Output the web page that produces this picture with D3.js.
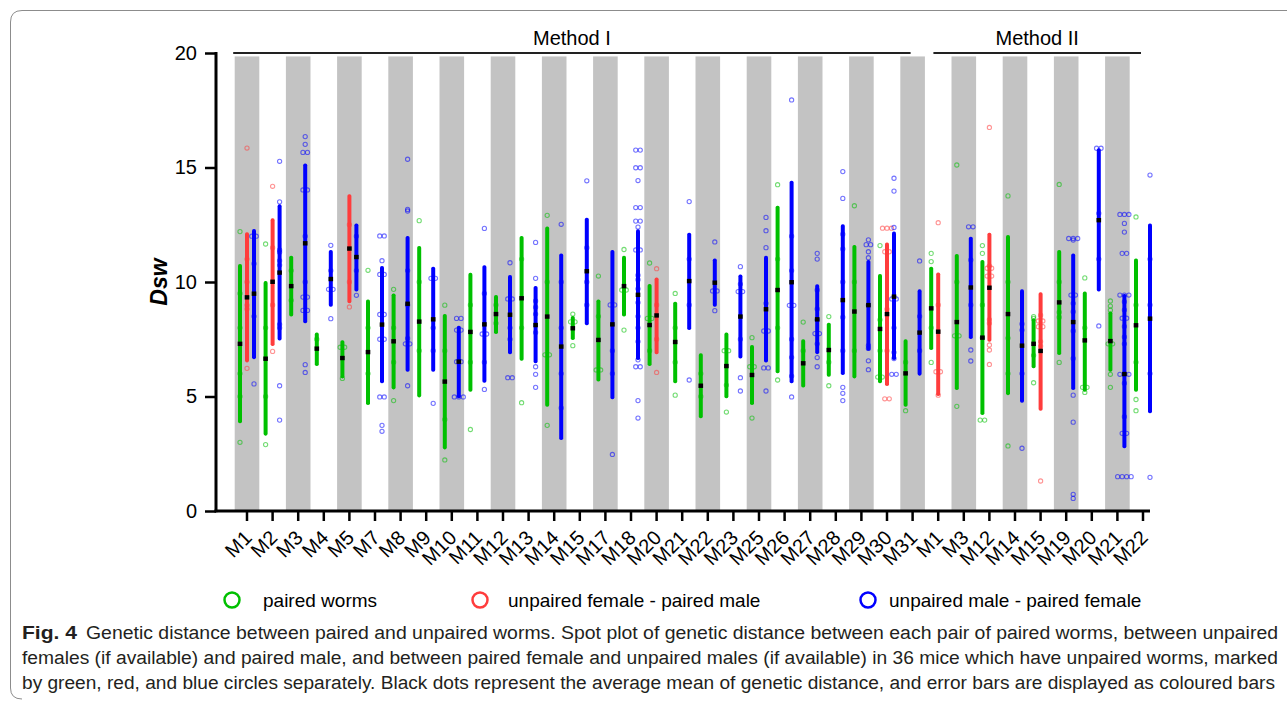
<!DOCTYPE html>
<html>
<head>
<meta charset="utf-8">
<script src="https://cdn.jsdelivr.net/npm/d3@7"></script>
<style>
  body { margin: 0; background: #fff; }
  svg { display: block; font-family: Arial, "Liberation Sans", sans-serif; }
</style>
</head>
<body>
<svg id="chart" width="1287" height="703"></svg>
<script>
// mice, in plot order (Method I then Method II)
const categories = ["M1","M2","M3","M4","M5","M7","M8","M9","M10","M11","M12","M13","M14","M15","M17","M18","M20","M21","M22","M23","M25","M26","M27","M28","M29","M30","M31",
                    "M1","M3","M12","M14","M15","M19","M20","M21","M22"];
const methods = [["Method I", 0, 26], ["Method II", 27, 35]];
const shaded = [0,2,4,6,8,10,12,14,16,18,20,22,24,26,28,30,32,34];

// [low, mean, high] of each error bar, null when the group has no worms
const greenStats = [[3.83,7.30,10.79],[3.29,6.65,10.04],[8.49,9.82,11.15],[6.33,7.09,7.79],[5.79,6.68,7.46],[4.63,6.94,9.24],[5.31,7.41,9.5],[4.96,8.27,11.57],[2.69,5.65,8.6],[5.21,7.82,10.4],[7.73,8.6,9.43],[6.56,9.29,12.01],[4.55,8.49,12.42],[7.47,7.98,8.52],[5.65,7.47,9.24],[8.49,9.82,11.15],[6.33,8.12,9.91],[5.58,7.38,9.14],[4.05,5.47,6.89],[4.92,6.33,7.79],[4.63,5.94,7.25],[6.01,9.65,13.33],[5.39,6.45,7.5],[5.86,7.03,8.22],[5.79,8.71,11.62],[5.58,7.95,10.35],[4.55,6.01,7.5],
                    [7.03,8.85,10.67],[5.28,8.25,11.22],[4.19,7.57,10.96],[5.06,8.6,12.05],[6.23,7.3,8.41],[6.81,9.11,11.4],[5.21,7.45,9.58],[6.08,7.42,8.71],[5.21,8.11,11.03]];
const redStats = [[6.49,9.33,12.17],[7.2,10.01,12.78],null,null,[9.07,11.46,13.83],null,null,null,null,null,null,null,null,null,null,null,[6.84,8.54,10.2],null,null,null,null,null,null,null,null,[5.46,8.6,11.73],null,
                  [5.02,7.83,10.42],null,[7.39,9.75,12.15],null,[4.38,6.99,9.55],null,null,null,null];
const blueStats = [[6.63,9.49,12.31],[7.44,10.41,13.39],[8.2,11.69,15.18],[8.92,10.13,11.4],[9.58,11.09,12.56],[5.58,8.14,10.7],[6.08,9.05,12.01],[6.08,8.37,10.67],[4.92,6.52,8.09],[5.6,8.15,10.73],[6.84,8.57,10.31],[6.45,8.12,9.83],[3.1,7.18,11.25],[8.11,10.47,12.81],[4.88,8.15,11.4],[6.59,9.44,12.3],null,[7.9,10.04,12.15],[8.92,9.97,11.03],[6.66,8.49,10.33],[6.48,8.81,11.15],[5.58,9.99,14.42],[6.85,8.37,9.9],[5.94,9.21,12.52],[7.0,8.99,10.96],[6.59,9.36,12.2],[5.91,7.79,9.68],
                   null,[7.51,9.76,11.98],null,[4.73,7.22,9.68],null,[5.28,8.25,11.25],[9.58,12.7,15.84],[2.74,5.98,9.48],[4.27,8.4,12.56]];

// individual genetic distances (circles)
const greenPoints = [[12.2,9.5,8.0,6.0,5.0,3.0],[11.66,8.0,5.0,2.9],[10.5,9.2],[7.5],[7.15,7.15,5.79],[10.51,8.0,6.0],[9.68,8.0,6.5,4.82],[12.68,10.0,7.0],[8.99,7.0,4.0,2.23],[9.0,6.5,3.56],[9.0,8.2],[11.0,8.0,4.73],[12.91,10.0,6.82,6.82,3.74],[8.6,8.26,8.26,7.22],[10.26,8.5,6.16,6.16],[11.42,9.65,9.65,7.9],[10.83,8.41,8.41,7.0],[9.5,8.0,6.5,5.06],[6.0,5.0],[7.0,7.0,5.5,4.32],[7.57,6.3,6.3,4.06],[14.25,11.0,8.0,5.72],[8.25,7.0],[8.49,6.5,5.47],[13.33,10.0,7.0],[11.59,8.35,7.0,5.85,5.85],[6.5,4.38],
                     [11.25,10.89,8.0,6.49],[15.11,10.0,7.65,7.65,4.57],[11.59,11.25,9.0,7.57,3.97,3.97],[13.76,10.0,7.55,6.0,2.84],[8.49,8.41,6.8,5.6],[14.26,10.0,8.68,8.46,6.49],[10.18,8.0,5.4,5.4,5.18],[9.17,8.95,8.77,7.3,7.3,5.97,5.4],[12.84,9.0,6.5,4.87,4.38]];
const redPoints = [[15.85,11.0,10.0,8.99,8.82,6.23],[14.18,11.5,9.0,6.97],[],[],[12.5,10.0,8.91],[],[],[],[],[],[],[],[],[],[],[],[10.58,9.0,7.5,6.05],[],[],[],[],[],[],[],[],[12.35,12.35,12.35,11.32,11.32,8.81,7.0,4.9,4.9],[],
                   [12.59,9.0,6.08,6.08,5.06],[],[16.75,10.7,10.6,10.6,10.26,10.26,8.36,8.2,7.25,7.03,6.4],[],[8.55,8.3,8.3,8.05,8.05,7.4,7.2,1.31],[],[],[],[]];
const bluePoints = [[12.0,12.0,10.8,8.5,5.55],[15.27,13.5,11.4,11.3,10.93,10.74,8.15,8.0,5.47,3.97],[16.35,16.01,15.66,15.66,14.02,14.02,12.0,10.0,9.34,9.34,8.76,8.76,6.39,6.05],[11.6,10.5,9.68,9.68,8.4],[12.0,10.5,9.42],[12.01,12.01,10.93,10.33,10.33,8.58,8.58,7.5,7.5,4.98,4.98,3.74,3.48],[15.36,13.17,13.1,10.5,9.0,7.54,7.3,7.3,5.47],[10.16,10.16,8.0,7.0,4.7],[8.41,8.41,7.9,7.9,6.52,6.52,4.98,4.98,4.98],[12.34,9.5,7.73,7.73,6.5,5.31],[10.84,9.26,9.26,8.0,7.5,5.82,5.82],[11.73,10.16,9.17,8.9,8.6,7.8,6.3,5.97,5.4],[12.52,10.0,8.0,6.0,4.5],[14.42,11.5,10.0,9.0],[9.0,9.0,7.0,6.0,2.47],[15.76,15.76,14.99,14.99,14.43,13.25,13.25,12.66,12.66,12.4,11.4,11.4,10.3,10.1,9.7,9.1,8.5,8.0,7.4,6.6,6.3,6.3,4.82,4.06],[],[13.51,11.0,9.0,5.72],[11.75,9.61,9.61,8.75],[10.67,9.91,9.58,9.58,7.5,5.82,5.24],[12.82,12.24,11.5,9.07,7.86,7.86,6.25,6.25,5.24],[17.95,12.0,10.5,8.98,8.98,7.5,6.71,5.89,4.98],[11.25,11.0,9.65,8.82,8.35,7.75,7.75,7.3,6.7,6.3],[14.82,13.65,12.09,11.44,10.0,8.46,7.0,5.4,5.14,4.82],[11.84,11.63,11.63,11.32,11.06,8.99,7.23,7.1,6.56,6.17],[14.53,13.97,12.38,9.26,9.26,8.0,6.93,6.66,5.97,5.97],[10.92,8.5,7.0],
                    [],[12.41,12.41,10.96,9.0,7.03,6.55],[],[8.17,7.9,6.0,2.74],[],[11.9,11.9,11.9,11.83,9.43,9.43,9.07,8.7,7.86,6.66,5.06,3.88,0.73,0.55],[15.84,15.84,13.0,11.0,8.08],[12.95,12.95,12.95,12.56,12.18,11.25,11.25,9.43,9.43,9.43,9.14,8.78,8.42,8.42,8.06,7.6,7.3,5.97,5.97,5.97,5.58,4.12,3.39,3.39,1.5,1.5,1.5,1.5],[14.67,11.0,9.0,6.0,1.47]];

const series = [
  {name: "paired worms", color: "#00c000", stats: greenStats, points: greenPoints, dx: -7, lx: 232, tx: 263},
  {name: "unpaired female - paired male", color: "#ff3c3c", stats: redStats, points: redPoints, dx: 0, lx: 480, tx: 508},
  {name: "unpaired male - paired female", color: "#0000ff", stats: blueStats, points: bluePoints, dx: 7, lx: 868, tx: 889}
];

const captionBold = "Fig. 4";
const captionLines = [
  "Genetic distance between paired and unpaired worms. Spot plot of genetic distance between each pair of paired worms, between unpaired",
  "females (if available) and paired male, and between paired female and unpaired males (if available) in 36 mice which have unpaired worms, marked",
  "by green, red, and blue circles separately. Black dots represent the average mean of genetic distance, and error bars are displayed as coloured bars"
];

const svg = d3.select("#chart");

// frame of the figure
svg.append("path")
  .attr("d", "M1300,10.5 H22 Q10.5,10.5 10.5,22 V688 Q10.5,699 22,699")
  .attr("fill", "none").attr("stroke", "#8c8c8c").attr("stroke-width", 1);

const x = d3.scaleBand().domain(d3.range(categories.length)).range([234.2, 1155.8]);
const y = d3.scaleLinear().domain([0, 20]).range([511, 53]);
const bw = x.bandwidth();

// grey stripes
svg.append("g").selectAll("rect").data(shaded).join("rect")
  .attr("x", d => x(d) + 0.5)
  .attr("width", bw - 1)
  .attr("y", y(19.85))
  .attr("height", y(0) - y(19.85))
  .attr("fill", "#c3c3c3");

// method headers
methods.forEach(function(m, i){
  var x1 = i == 0 ? x(m[1]) - 1 : x(m[1]) + 8;
  var x2 = x(m[2]) + bw / 2 - 2;
  svg.append("line").attr("x1", x1).attr("x2", x2).attr("y1", y(20)).attr("y2", y(20))
    .attr("stroke", "#222").attr("stroke-width", 2);
  svg.append("text").attr("x", (x1 + x2) / 2).attr("y", 45)
    .attr("text-anchor", "middle").attr("font-size", 20).text(m[0]);
});

// bars, circles, means
series.forEach(function(s){
  var g = svg.append("g");
  var cx = i => x(i) + bw / 2 + s.dx;
  var idx = d3.range(categories.length).filter(i => s.stats[i]);

  g.selectAll(".bar").data(idx).join("rect")
    .attr("class", "bar")
    .attr("x", i => cx(i) - 2)
    .attr("width", 4)
    .attr("y", i => y(s.stats[i][2]))
    .attr("height", i => y(s.stats[i][0]) - y(s.stats[i][2]))
    .attr("rx", 1.8)
    .attr("fill", s.color);

  var pts = [];
  idx.forEach(function(i){
    var vals = s.points[i];
    var k = 0;
    while (k < vals.length) {
      var n = 1;
      while (k + n < vals.length && vals[k + n] == vals[k]) n++;
      for (var j = 0; j < n; j++) {
        var off = n == 1 ? 0 : (j - (n - 1) / 2) * 4.5;
        pts.push({x: cx(i) + off, v: vals[k]});
      }
      k += n;
    }
  });
  g.selectAll(".pt").data(pts).join("circle")
    .attr("class", "pt")
    .attr("cx", d => d.x)
    .attr("cy", d => y(d.v))
    .attr("r", 2.1)
    .attr("fill", "none")
    .attr("stroke", s.color)
    .attr("stroke-opacity", 0.55)
    .attr("stroke-width", 1.1);

  g.selectAll(".mean").data(idx).join("rect")
    .attr("class", "mean")
    .attr("x", i => cx(i) - 2.3)
    .attr("y", i => y(s.stats[i][1]) - 2.2)
    .attr("width", 4.6).attr("height", 4.4)
    .attr("fill", "#000");
});

// axes
var yAxis = svg.append("g").attr("transform", "translate(216,0)")
  .call(d3.axisLeft(y).tickValues([0, 5, 10, 15, 20]).tickSize(11).tickPadding(8));
yAxis.select(".domain").remove();
yAxis.selectAll(".tick line").attr("stroke-width", 2.5);
yAxis.selectAll(".tick text").attr("font-size", 20).attr("fill", "#000").attr("font-family", "Arial, 'Liberation Sans'");
svg.append("line").attr("x1", 216).attr("x2", 216).attr("y1", y(20) - 1).attr("y2", y(0) + 1.2)
  .attr("stroke", "#000").attr("stroke-width", 3);

var xAxis = svg.append("g").attr("transform", "translate(0," + y(0) + ")")
  .call(d3.axisBottom(x).tickSize(10).tickFormat(i => categories[i]));
xAxis.select(".domain").remove();
xAxis.selectAll(".tick line").attr("stroke-width", 2.5);
xAxis.selectAll(".tick text")
  .attr("font-size", 20).attr("fill", "#000").attr("font-family", "Arial, 'Liberation Sans'")
  .attr("text-anchor", "end")
  .attr("dy", "0")
  .attr("y", 0)
  .attr("transform", "translate(6,28) rotate(-45)");
svg.append("line").attr("x1", 214.5).attr("x2", 1150).attr("y1", y(0)).attr("y2", y(0))
  .attr("stroke", "#000").attr("stroke-width", 3);

// y title
svg.append("text")
  .attr("transform", "translate(167,282) rotate(-90)")
  .attr("text-anchor", "middle")
  .attr("font-size", 23).attr("font-weight", "bold").attr("font-style", "italic")
  .text("Dsw");

// legend
series.forEach(function(s){
  svg.append("circle").attr("cx", s.lx).attr("cy", 600).attr("r", 7.5)
    .attr("fill", "none").attr("stroke", s.color).attr("stroke-width", 2.5);
  svg.append("text").attr("x", s.tx).attr("y", 607).attr("font-size", 19).text(s.name);
});

// caption
var cap = svg.append("g").attr("fill", "#231f20").attr("font-family", "'Liberation Sans', Arial, sans-serif").attr("font-size", 18);
cap.append("text").attr("x", 22).attr("y", 639).attr("font-weight", "bold")
  .attr("textLength", 55).attr("lengthAdjust", "spacingAndGlyphs").text(captionBold);
var capX = [86, 22, 22], capW = [1192, 1256, 1253], capY = [639, 664, 689];
captionLines.forEach(function(t, i){
  cap.append("text").attr("x", capX[i]).attr("y", capY[i])
    .attr("textLength", capW[i]).attr("lengthAdjust", "spacingAndGlyphs").text(t);
});
</script>
</body>
</html>
